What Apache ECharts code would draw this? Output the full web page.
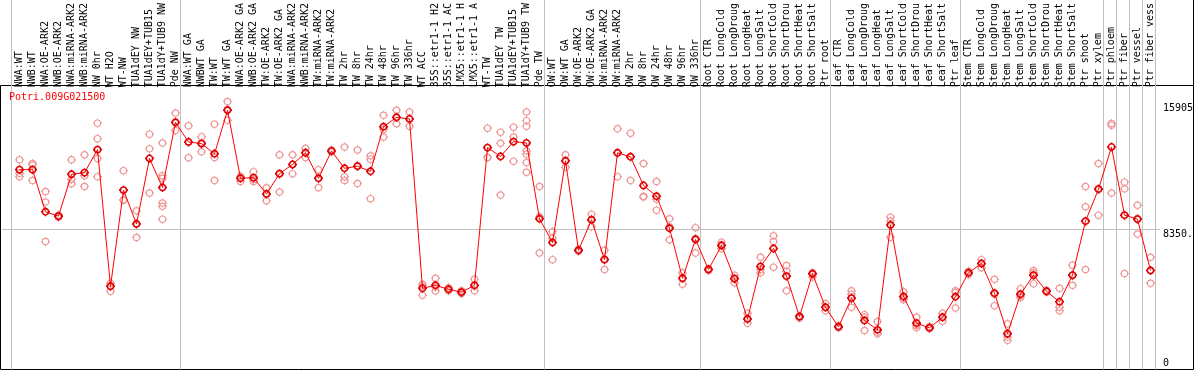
<!DOCTYPE html>
<html>
<head>
<meta charset="utf-8">
<script src="https://cdn.jsdelivr.net/npm/echarts@6/dist/echarts.min.js"></script>
<style>
html,body{margin:0;padding:0;background:#fff;}
#chart{width:1194px;height:370px;}
</style>
</head>
<body>
<div id="chart"></div>
<script>
// ---------------- data ----------------
const chartTitle = 'Potri.009G021500';

const categories = [
  'NWA:WT','NWB:WT','NWA:OE-ARK2','NWB:OE-ARK2','NWA:miRNA-ARK2','NWB:miRNA-ARK2','NW 0hr','WT H2O','WT-NW',
  'TUA1dEY NW','TUA1dEY+TUB15 NW','TUA1dY+TUB9 NW','Pde NW',
  'NWA:WT GA','NWBWT GA','TW:WT','TW:WT GA','NWA:OE-ARK2 GA','NWB:OE-ARK2 GA','TW:OE-ARK2','TW:OE-ARK2 GA',
  'NWA:miRNA-ARK2 GA','NWB:miRNA-ARK2 GA','TW:miRNA-ARK2','TW:miRNA-ARK2 GA','TW 2hr','TW 8hr','TW 24hr','TW 48hr',
  'TW 96hr','TW 336hr','WT ACC','35S::etr1-1 H2O','35S::etr1-1 ACC','LMX5::etr1-1 H2O','LMX5::etr1-1 ACC','WT-TW',
  'TUA1dEY TW','TUA1dEY+TUB15 TW','TUA1dY+TUB9 TW','Pde TW',
  'OW:WT','OW:WT GA','OW:OE-ARK2','OW:OE-ARK2 GA','OW:miRNA-ARK2','OW:miRNA-ARK2 GA','OW 2hr','OW 8hr','OW 24hr',
  'OW 48hr','OW 96hr','OW 336hr',
  'Root CTR','Root LongCold','Root LongDrought','Root LongHeat','Root LongSalt','Root ShortCold','Root ShortDrought',
  'Root ShortHeat','Root ShortSalt','Ptr root',
  'Leaf CTR','Leaf LongCold','Leaf LongDrought','Leaf LongHeat','Leaf LongSalt','Leaf ShortCold','Leaf ShortDrought',
  'Leaf ShortHeat','Leaf ShortSalt','Ptr leaf',
  'Stem CTR','Stem LongCold','Stem LongDrought','Stem LongHeat','Stem LongSalt','Stem ShortCold','Stem ShortDrought',
  'Stem ShortHeat','Stem ShortSalt','Ptr shoot','Ptr xylem',
  'Ptr phloem','Ptr fiber','Ptr vessel','Ptr fiber vessel'
];

const meanValues = [
  11930,11930,9400,9140,11650,11750,13130,4930,10700,8670,
  12600,10860,14770,13590,13490,12880,15490,11410,11450,10470,
  11690,12240,12940,11410,13050,12010,12130,11830,14500,15070,
  14970,4810,4990,4750,4580,4990,13250,12720,13610,13530,
  8980,7560,12460,7090,8920,6530,12940,12700,10980,10330,
  8410,5410,7740,5940,7380,5390,2970,6120,7200,5540,
  3110,5680,3670,2500,4220,2880,2320,8610,4320,2720,
  2440,3070,4300,5740,6300,4520,2090,4460,5600,4630,
  4000,5600,8840,10760,13290,9200,8960,5880
];

const replicateValues = [
  [12520,11710,11510],[12300,12210,11280],[10620,9990,7620],[9200,9140,9080],[12520,11340,11080],
  [12820,11570,10920],[14720,13790,12600,11510],[5110,4950,4640],[11870,10130,10090],[9460,8690,7860],
  [14060,13190,10530],[13530,11570,11410,9930,9730,8960],[15330,14740,14280],[14560,13590,12640],[13910,13550,13000],
  [14660,12660,11280],[16020,15530,14890],[11530,11410,11220],[11810,11340,11220],[10840,10470,10070],
  [12820,11670,10590],[12820,12230,11690],[13210,12940,12660],[11930,11410,10860],[13110,13060,13000],
  [13290,11510,11280],[13110,12170,11100],[12760,12560,10190],[15190,14340,13890],[15490,15050,14680],
  [15390,14970,14540],[5050,4950,4400],[5410,4890,4660],[4850,4730,4660],[4660,4580,4500],
  [5350,4950,4660],[14420,12660,12660],[14180,13510,10410],[14480,13890,12440],[15390,14870,14540,13060,12860,12360,11770],
  [10920,9100,6930],[8210,7820,6530],[12820,12460,12070],[7150,7090,7030],[9260,8920,8510],
  [7090,6570,5940],[14380,12920,11510],[14120,12700,11280],[12300,10330,10290],[11220,10150,9500],
  [8980,8510,7720],[5740,5410,5050],[8450,7820,6930],[6000,5940,5880],[7580,7420,7190],
  [5600,5410,5150],[3310,2980,2720],[6670,5940,5740],[7960,7620,6080],[6180,5840,4660],
  [3170,3110,3030],[5740,5640,5490],[3900,3670,3470],[2580,2500,2440],[4660,4460,3670],
  [3230,3070,2280],[2820,2180,2090],[9080,8850,7880],[4600,4220,4120],[3070,2580,2440],
  [2520,2440,2380],[3310,3070,2840],[4660,4560,3630],[5840,5740,5640],[6530,6300,6040],
  [5350,4460,3770],[2680,1890,1690],[4790,4360,4260],[5880,5740,5090],[4690,4640,4580],
  [4810,3670,3470],[6200,5600,4990],[10920,9700,5940],[12300,10780,9200],[14700,14600,10530],
  [11180,10780,5700],[9790,9000,8070],[6670,5880,5110]
];

// last category index of each group (-1 = line before the first category)
const groupEnds = [-1, 12, 40, 52, 62, 72, 83, 84, 85, 86, 87];

const yTickValues = [15905, 8350, 0];
const yTickLabels = ['15905', '8350.', '0'];
const yGridValue = 8350;
const yMax = 16750;

// ---------------- layout helpers ----------------
const PX0 = 19.5;   // pixel centre of first category
const STEP = 13;    // pixels per category
function xRange(leftPx, rightPx) {
  return { min: (leftPx - PX0) / STEP, max: (rightPx - PX0) / STEP };
}
const MONO = 'DejaVu Sans Mono';
const plotL = 2, plotR = 1160;
const rA = xRange(plotL, plotR);
const rB = xRange(0, 1194);

const ring = 'path://M1.5,5A3.5,3.5,0,1,1,8.5,5A3.5,3.5,0,1,1,1.5,5Z M5,0L5,1.5 M5,8.5L5,10 M0,5L1.5,5 M8.5,5L10,5';

const repData = [];
replicateValues.forEach((arr, i) => arr.forEach(v => repData.push([i, v])));
const meanData = meanValues.map((v, i) => [i, v]);
const idx = categories.map((c, i) => i);

const chart = echarts.init(document.getElementById('chart'), null, { renderer: 'canvas' });
chart.setOption({
  animation: false,
  backgroundColor: '#fff',
  title: {
    text: chartTitle, left: 9, top: 92, padding: 0,
    textStyle: { color: '#ff0000', fontSize: 10, fontFamily: MONO, fontWeight: 'normal' }
  },
  grid: [
    { left: plotL, width: plotR - plotL, top: 86, bottom: 1.5, show: false },
    { left: 0, right: 0, top: 0, bottom: 0.5, show: false },
    { left: 0.5, right: 0.5, top: 85.5, bottom: 0.5, show: true, borderColor: '#000', borderWidth: 1, backgroundColor: 'transparent' },
    { left: 1193.5, width: 0, top: 0, height: 86, show: true, borderColor: '#000', borderWidth: 1, backgroundColor: 'transparent' }
  ],
  xAxis: [
    {
      gridIndex: 0, type: 'value', position: 'top', min: rA.min, max: rA.max,
      axisLine: { show: false }, axisTick: { show: false }, splitLine: { show: false },
      axisLabel: {
        customValues: idx, rotate: 90, margin: 2, color: '#000',
        fontFamily: MONO, fontSize: 10, width: 86, overflow: 'truncate', ellipsis: '',
        formatter: v => categories[Math.round(v)] || ''
      }
    },
    { gridIndex: 1, type: 'value', min: rB.min, max: rB.max, show: false },
    { gridIndex: 2, type: 'value', min: 0, max: 1, show: false },
    { gridIndex: 3, type: 'value', min: 0, max: 1, show: false }
  ],
  yAxis: [
    { gridIndex: 0, type: 'value', min: 0, max: yMax, show: false },
    { gridIndex: 1, type: 'value', min: 0, max: 1, show: false },
    { gridIndex: 2, type: 'value', min: 0, max: 1, show: false },
    { gridIndex: 3, type: 'value', min: 0, max: 1, show: false }
  ],
  series: [
    {
      name: 'group separators', type: 'line', xAxisIndex: 1, yAxisIndex: 1, data: [], z: 1,
      silent: true,
      markLine: {
        silent: true, symbol: 'none', animation: false,
        label: { show: false },
        lineStyle: { color: '#c0c0c0', width: 1, type: 'solid' },
        data: groupEnds.map(b => ({ xAxis: b + 0.5 - 1.5 / STEP }))
      }
    },
    {
      name: 'replicates', type: 'scatter', xAxisIndex: 0, yAxisIndex: 0, data: repData, z: 3,
      symbol: ring, symbolSize: 9,
      itemStyle: { color: 'none', borderColor: '#f09a9a', borderWidth: 1.2, opacity: 1 },
      markLine: {
        silent: true, symbol: 'none', animation: false,
        lineStyle: { color: '#c0c0c0', width: 1, type: 'solid' },
        label: { show: true, position: 'end', distance: 3, color: '#000', fontFamily: MONO, fontSize: 10 },
        data: yTickValues.map((v, k) => ({
          yAxis: v,
          lineStyle: { color: v === yGridValue ? '#c0c0c0' : 'rgba(255,255,255,0)' },
          label: { formatter: yTickLabels[k], verticalAlign: v === 0 ? 'bottom' : 'top' }
        }))
      }
    },
    {
      name: 'mean', type: 'line', xAxisIndex: 0, yAxisIndex: 0, data: meanData, z: 5,
      symbol: ring, symbolSize: 9, showAllSymbol: true,
      lineStyle: { color: '#ff0000', width: 1 },
      itemStyle: { color: 'none', borderColor: '#e00000', borderWidth: 1.6 }
    }
  ]
});
</script>
</body>
</html>
